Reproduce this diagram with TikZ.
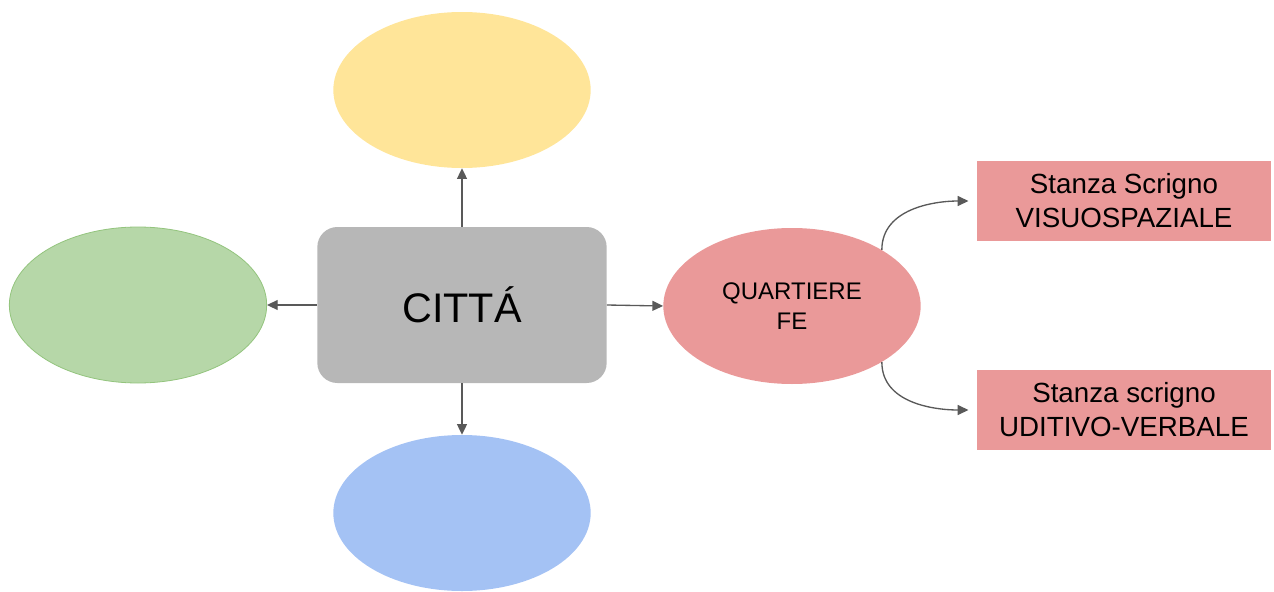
\documentclass[tikz,border=0pt]{standalone}
\usepackage{fontspec}
\setmainfont{Liberation Sans}
\usetikzlibrary{shapes.geometric,arrows.meta}
\definecolor{giallo}{HTML}{FFE599}
\definecolor{verde}{HTML}{B6D7A8}
\definecolor{verdebordo}{HTML}{93C47D}
\definecolor{blu}{HTML}{A4C2F4}
\definecolor{grigio}{HTML}{B7B7B7}
\definecolor{rosa}{HTML}{EA9999}
\definecolor{freccia}{HTML}{595959}

\begin{document}
\begin{tikzpicture}[x=0.75pt,y=-0.75pt,
    bolla/.style={ellipse,minimum width=193pt,minimum height=117pt,inner sep=0pt,align=center},
    stanza/.style={rectangle,fill=rosa,minimum width=221pt,minimum height=60pt,inner sep=0pt,align=center,
        font=\fontsize{20.8}{25.5}\selectfont},
    conn/.style={draw=freccia,line width=1pt,-{Triangle[length=8pt,width=7.5pt]}}]
    \useasboundingbox (0,0) rectangle (1274,592);

    % centro
    \node[rectangle,rounded corners=15pt,fill=grigio,minimum width=217pt,minimum height=117pt,
        font=\fontsize{31}{35}\selectfont] (citta) at (462,305) {CITTÁ};

    % bolle intorno
    \node[bolla,fill=giallo] (sopra) at (462,90) {};
    \node[bolla,fill=verde,draw=verdebordo,line width=0.6pt] (sinistra) at (138,305) {};
    \node[bolla,fill=blu] (sotto) at (462,513) {};
    \node[bolla,fill=rosa,font=\fontsize{18}{23}\selectfont] (quartiere) at (792,306) {QUARTIERE\\FE};

    % stanze
    \node[stanza] (visuo) at (1124,201) {Stanza Scrigno\\VISUOSPAZIALE};
    \node[stanza] (uditivo) at (1124,410) {Stanza scrigno\\UDITIVO-VERBALE};

    \draw[conn] (citta.north) -- (sopra.south);
    \draw[conn] (citta.west) -- (sinistra.east);
    \draw[conn] (citta.south) -- (sotto.north);
    \draw[conn] (citta.east) -- (quartiere.west);
    \draw[conn,shorten >=6pt] (quartiere.32) to[out=90,in=180] (visuo.west);
    \draw[conn,shorten >=6pt] (quartiere.-32) to[out=-90,in=180] (uditivo.west);
\end{tikzpicture}
\end{document}
